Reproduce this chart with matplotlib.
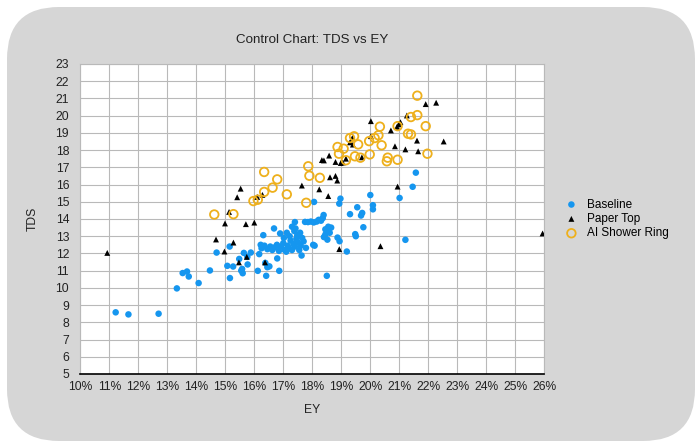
import matplotlib
matplotlib.use("Agg")
import matplotlib.pyplot as plt
from matplotlib.patches import FancyBboxPatch
from matplotlib.ticker import FuncFormatter

# --- data (EY in %, TDS) ---
baseline_ey = [11.22, 11.66, 12.70, 13.33, 13.53, 13.68, 13.74, 14.08, 14.47, 14.70,
               15.07, 15.15, 15.16, 15.27, 15.48, 15.58, 15.60, 15.55, 15.64, 15.76,
               15.77, 15.88, 16.12, 16.17, 16.22, 16.31, 16.38, 16.45, 16.52, 16.41,
               16.68, 16.79, 16.86, 16.89,
               16.25, 16.35, 16.45, 16.55, 16.62, 16.70, 16.78, 16.85, 16.92, 17.00,
               17.05, 17.10, 17.15, 17.20, 17.25, 17.30, 17.35, 17.40, 17.02, 17.12,
               17.22, 17.30, 17.38, 17.45, 17.50, 17.55, 17.60, 17.63, 17.70, 17.75,
               17.85, 17.95, 18.05, 18.15, 17.40, 17.42, 17.78, 18.03, 18.08, 17.48,
               17.58, 17.65,
               18.06, 18.97, 18.93, 20.00, 20.09, 20.09, 21.01, 21.21, 19.55, 19.30,
               19.68, 19.72, 19.76, 19.50, 19.48, 18.94, 18.87, 19.19, 18.50, 18.39,
               18.36, 18.30, 18.22, 18.45, 18.55, 18.65, 18.60, 18.45, 18.40, 18.52,
               21.57, 21.46]
baseline_tds = [8.58, 8.46, 8.50, 9.97, 10.86, 10.95, 10.66, 10.28, 11.01, 12.05,
                11.28, 12.40, 10.57, 11.24, 11.68, 11.10, 10.85, 11.00, 12.03, 11.80,
                11.36, 12.05, 10.99, 11.96, 12.50, 13.06, 11.45, 11.20, 11.25, 10.70,
                13.45, 11.71, 10.99, 13.16,
                12.30, 12.45, 12.25, 12.40, 12.20, 12.35, 12.50, 12.15, 12.40, 12.60,
                12.20, 12.10, 12.45, 12.30, 12.75, 12.20, 12.55, 12.40, 12.90, 13.20,
                13.00, 13.55, 13.30, 12.85, 12.65, 12.20, 12.45, 11.88, 12.70, 13.83,
                13.82, 13.85, 13.80, 13.85, 13.82, 13.45, 12.32, 12.50, 12.45, 13.05,
                13.20, 12.90,
                14.99, 15.18, 14.89, 15.39, 14.80, 14.56, 15.22, 12.79, 14.68, 14.28,
                14.20, 14.35, 13.52, 13.00, 13.12, 12.71, 12.92, 12.11, 10.70, 14.23,
                14.05, 13.90, 13.95, 13.40, 13.55, 13.50, 13.20, 13.10, 12.95, 12.80,
                16.69, 15.87]

paper_ey = [10.93, 14.68, 14.97, 14.99, 15.13, 15.28, 15.41, 15.47, 15.53, 15.71,
            15.74, 16.00, 16.10, 16.28, 16.37, 17.64, 18.24, 18.55, 18.33, 18.40,
            18.58, 18.80, 18.98, 19.05, 19.16, 18.61, 18.80, 18.86, 19.30, 19.38,
            19.40, 19.71, 20.02, 20.02, 20.71, 20.85, 20.92, 20.98, 21.04, 21.21,
            21.26, 20.94, 21.61, 21.65, 21.91, 22.27, 22.53, 18.93, 20.35, 25.94]
paper_tds = [12.03, 12.81, 12.11, 13.74, 14.41, 12.63, 15.26, 11.48, 15.76, 13.70,
             11.80, 13.79, 15.28, 15.40, 11.48, 15.94, 15.72, 15.33, 17.42, 17.40,
             17.68, 17.31, 17.25, 17.28, 17.50, 16.42, 16.50, 16.23, 18.45, 18.70,
             18.32, 17.58, 19.68, 18.81, 19.14, 18.22, 19.35, 19.50, 19.62, 18.04,
             20.01, 15.88, 18.55, 17.93, 20.67, 20.75, 18.50, 12.25, 12.42, 13.16]

ring_ey = [14.62, 15.28, 15.97, 16.12, 16.34, 16.34, 16.63, 16.79, 17.12, 17.79,
           17.86, 17.90, 18.26, 18.87, 18.92, 19.08, 19.16, 19.30, 19.44, 19.47,
           19.58, 19.66, 19.96, 19.98, 20.15, 20.28, 20.33, 20.39, 20.57, 20.60,
           20.94, 20.94, 21.30, 21.40, 21.40, 21.62, 21.62, 21.91, 21.97]
ring_tds = [14.26, 14.28, 15.04, 15.12, 16.73, 15.57, 15.82, 16.30, 15.43, 14.94,
            17.06, 16.51, 16.39, 18.18, 17.79, 18.08, 17.41, 18.70, 18.80, 17.64,
            18.33, 17.56, 18.52, 17.75, 18.70, 18.86, 19.36, 18.28, 17.35, 17.56,
            17.44, 19.39, 18.95, 18.91, 19.92, 20.03, 21.16, 19.39, 17.79]

x_ticks = list(range(10, 27))
y_ticks = list(range(5, 24))

plt.rcParams['font.family'] = ['Liberation Sans', 'DejaVu Sans']

fig = plt.figure(figsize=(7, 4.48), dpi=100)
fig.patch.set_facecolor("white")

# grey rounded panel behind everything (pixel coords)
panel = FancyBboxPatch((7, 7), 688, 434, boxstyle="round,pad=0,rounding_size=52",
                       transform=None, facecolor="#d6d6d6", edgecolor="none", zorder=-10)
fig.patches.append(panel)

ax = fig.add_axes([0.1147, 0.1652, 0.6629, 0.692])
ax.set_zorder(1)
ax.set_facecolor("white")

ax.scatter(baseline_ey, baseline_tds, s=22, color="#1596ef", edgecolors="none",
           label="Baseline", zorder=3)
ax.scatter(paper_ey, paper_tds, s=18, marker="^", color="black", edgecolors="none",
           label="Paper Top", zorder=4)
ax.scatter(ring_ey, ring_tds, s=38, facecolors="none", edgecolors="#eeb01c",
           linewidths=1.3, label="AI Shower Ring", zorder=5)

ax.set_xlim(10, 26)
ax.set_ylim(5, 23)
ax.set_xticks(x_ticks)
ax.set_yticks(y_ticks)
ax.xaxis.set_major_formatter(FuncFormatter(lambda v, p: f"{int(v)}%"))
ax.grid(True, color="#b9b9b9", linewidth=0.8, zorder=1)
ax.set_axisbelow(True)
ax.tick_params(length=0, labelsize=8.7, colors="#222222")
ax.tick_params(axis="y", pad=8)
ax.tick_params(axis="x", pad=5)
for side in ["left", "top", "right"]:
    ax.spines[side].set_color("#b9b9b9")
    ax.spines[side].set_linewidth(0.8)
ax.spines["bottom"].set_color("black")
ax.spines["bottom"].set_linewidth(1.2)

ax.set_title("Control Chart: TDS vs EY", fontsize=9.6, color="#222222", pad=15)
ax.set_xlabel("EY", fontsize=8.7, color="#222222", labelpad=8)
ax.set_ylabel("TDS", fontsize=8.7, color="#222222", labelpad=12)

leg = ax.legend(loc="center left", bbox_to_anchor=(1.01, 0.5), frameon=False,
                fontsize=8.5, handletextpad=0.3, labelspacing=0.2, markerscale=1.0)

fig.savefig("out.png", dpi=100, facecolor=fig.get_facecolor())
